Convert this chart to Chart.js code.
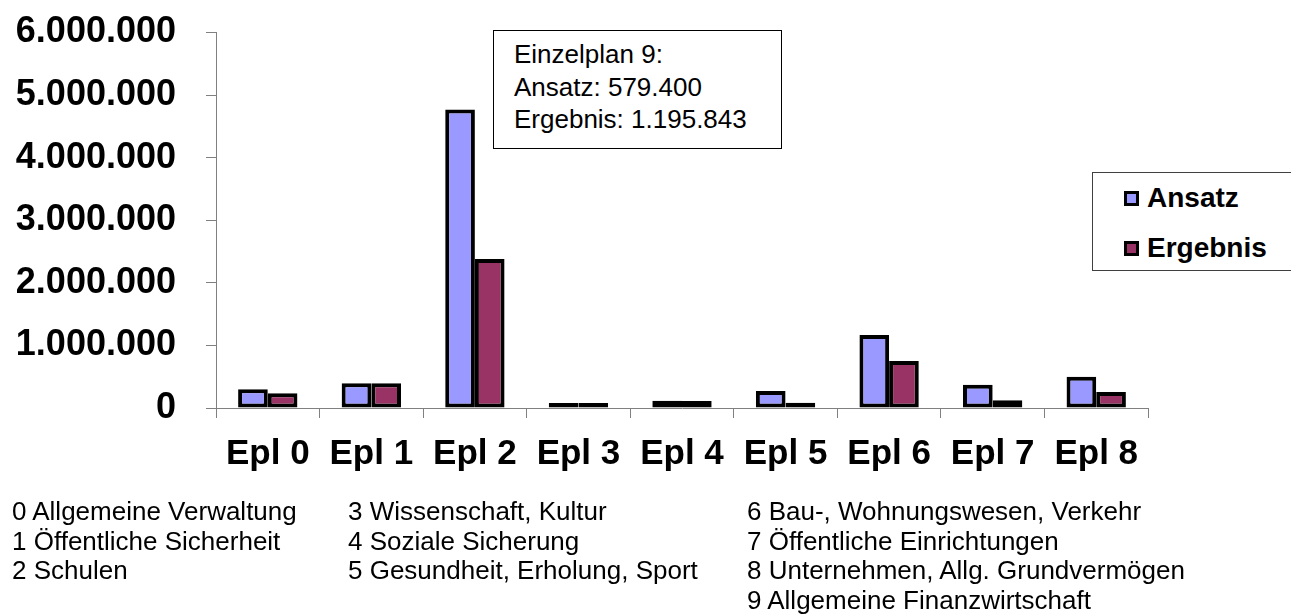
<!DOCTYPE html>
<html lang="de">
<head>
<meta charset="utf-8">
<title>Einzelpläne – Ansatz und Ergebnis</title>
<script src="https://cdn.jsdelivr.net/npm/chart.js@4.4.1/dist/chart.umd.min.js"></script>
<style>
    html, body {
        margin: 0;
        padding: 0;
        background: #fff;
    }
    #page {
        position: relative;
        width: 1291px;
        height: 615px;
        overflow: hidden;
        font-family: "Liberation Sans", Arial, sans-serif;
        color: #000;
    }
    #chart {
        position: absolute;
        left: 0;
        top: 0;
    }
    .note-box {
        position: absolute;
        left: 493px;
        top: 30px;
        width: 289px;
        height: 119px;
        box-sizing: border-box;
        border: 1.5px solid #000;
        padding: 7px 0 0 20px;
        font-size: 26px;
        line-height: 32.5px;
        background: #fff;
    }
    .legend-box {
        position: absolute;
        left: 1092px;
        top: 172px;
        width: 205px;
        height: 99px;
        box-sizing: border-box;
        border: 1.5px solid #404040;
        background: #fff;
    }
    .legend-item {
        position: absolute;
        left: 31px;
        height: 34px;
        line-height: 34px;
        font-size: 28px;
        font-weight: bold;
        white-space: nowrap;
    }
    .legend-item .swatch {
        display: inline-block;
        width: 15px;
        height: 15px;
        box-sizing: border-box;
        border: 3.5px solid #000;
        margin-right: 8px;
        vertical-align: 1px;
    }
    .notes-col {
        position: absolute;
        top: 497px;
        font-size: 26px;
        line-height: 29.7px;
        white-space: nowrap;
    }
</style>
</head>
<body>
<div id="page">
    <canvas id="chart" width="1291" height="615"></canvas>
    <div class="note-box" id="noteBox"></div>
    <div class="legend-box" id="legendBox"></div>
    <div class="notes-col" id="notesCol1" style="left: 12px;"></div>
    <div class="notes-col" id="notesCol2" style="left: 348px;"></div>
    <div class="notes-col" id="notesCol3" style="left: 747px;"></div>
</div>

<script>
// ===== Data =====
const categories = ['Epl 0', 'Epl 1', 'Epl 2', 'Epl 3', 'Epl 4', 'Epl 5', 'Epl 6', 'Epl 7', 'Epl 8'];
const seriesNames = ['Ansatz', 'Ergebnis'];
const ansatzValues = [300000, 395000, 4770000, 20000, 117000, 270000, 1166000, 372000, 500000];
const ergebnisValues = [235000, 395000, 2380000, 15000, 110000, 85000, 750000, 123000, 256000];
const yMax = 6000000;
const yStep = 1000000;

const noteLines = ['Einzelplan 9:', 'Ansatz: 579.400', 'Ergebnis: 1.195.843'];

const notesCol1 = ['0 Allgemeine Verwaltung', '1 Öffentliche Sicherheit', '2 Schulen'];
const notesCol2 = ['3 Wissenschaft, Kultur', '4 Soziale Sicherung', '5 Gesundheit, Erholung, Sport'];
const notesCol3 = ['6 Bau-, Wohnungswesen, Verkehr', '7 Öffentliche Einrichtungen',
    '8 Unternehmen, Allg. Grundvermögen', '9 Allgemeine Finanzwirtschaft'];

const seriesColors = ['#9999FF', '#993366'];
const axisColor = '#808080';
const fontFamily = '"Liberation Sans", Arial, sans-serif';

// ===== Helpers =====
function formatThousands(value) {
    // German style: 1.000.000
    return String(Math.round(value)).replace(/\B(?=(\d{3})+(?!\d))/g, '.');
}

function fillLines(elementId, lines) {
    const el = document.getElementById(elementId);
    el.innerHTML = lines.map(line => `<div>${line}</div>`).join('');
}

// ===== Chart =====
const ctx = document.getElementById('chart').getContext('2d');

const chart = new Chart(ctx, {
    type: 'bar',
    data: {
        labels: categories,
        datasets: [
            {
                label: seriesNames[0],
                data: ansatzValues,
                backgroundColor: seriesColors[0],
                borderColor: '#000',
                borderWidth: 4,
                borderSkipped: false,
                minBarLength: 5
            },
            {
                label: seriesNames[1],
                data: ergebnisValues,
                backgroundColor: seriesColors[1],
                borderColor: '#000',
                borderWidth: 4,
                borderSkipped: false,
                minBarLength: 5
            }
        ]
    },
    options: {
        responsive: false,
        animation: false,
        devicePixelRatio: 1,
        datasets: {
            bar: {
                barPercentage: 1,
                categoryPercentage: 0.573
            }
        },
        layout: {
            padding: { top: 32.5, right: 143, bottom: 0, left: 0 }
        },
        plugins: {
            legend: { display: false },
            tooltip: { enabled: false }
        },
        scales: {
            x: {
                grid: {
                    offset: true,
                    drawOnChartArea: false,
                    drawTicks: true,
                    tickLength: 10,
                    color: axisColor
                },
                border: { display: true, color: axisColor, width: 1 },
                ticks: {
                    color: '#000',
                    padding: 15,
                    maxRotation: 0,
                    autoSkip: false,
                    font: { family: fontFamily, size: 35, weight: 'bold' }
                },
                afterFit: function(scale) {
                    scale.height = 615 - 408;
                }
            },
            y: {
                min: 0,
                max: yMax,
                grid: {
                    drawOnChartArea: false,
                    drawTicks: true,
                    tickLength: 10,
                    color: axisColor
                },
                border: { display: true, color: axisColor, width: 1 },
                ticks: {
                    stepSize: yStep,
                    color: '#000',
                    padding: 30,
                    font: { family: fontFamily, size: 36, weight: 'bold' },
                    callback: function(value) {
                        return formatThousands(value);
                    }
                },
                afterFit: function(scale) {
                    scale.width = 216;
                    // let layout.padding decide where the plot area starts
                    scale.paddingTop = 0;
                    scale.paddingBottom = 0;
                }
            }
        }
    }
});

// ===== Legend =====
function buildLegend() {
    const box = document.getElementById('legendBox');
    const centers = [24.7, 74.7];
    box.innerHTML = chart.data.datasets.map((ds, i) => `
        <div class="legend-item" style="top: ${centers[i] - 17}px;">
            <span class="swatch" style="background: ${ds.backgroundColor};"></span>${ds.label}
        </div>`).join('');
}

// ===== Notes =====
document.addEventListener('DOMContentLoaded', function() {
    buildLegend();
    fillLines('noteBox', noteLines);
    fillLines('notesCol1', notesCol1);
    fillLines('notesCol2', notesCol2);
    fillLines('notesCol3', notesCol3);
});
</script>
</body>
</html>
